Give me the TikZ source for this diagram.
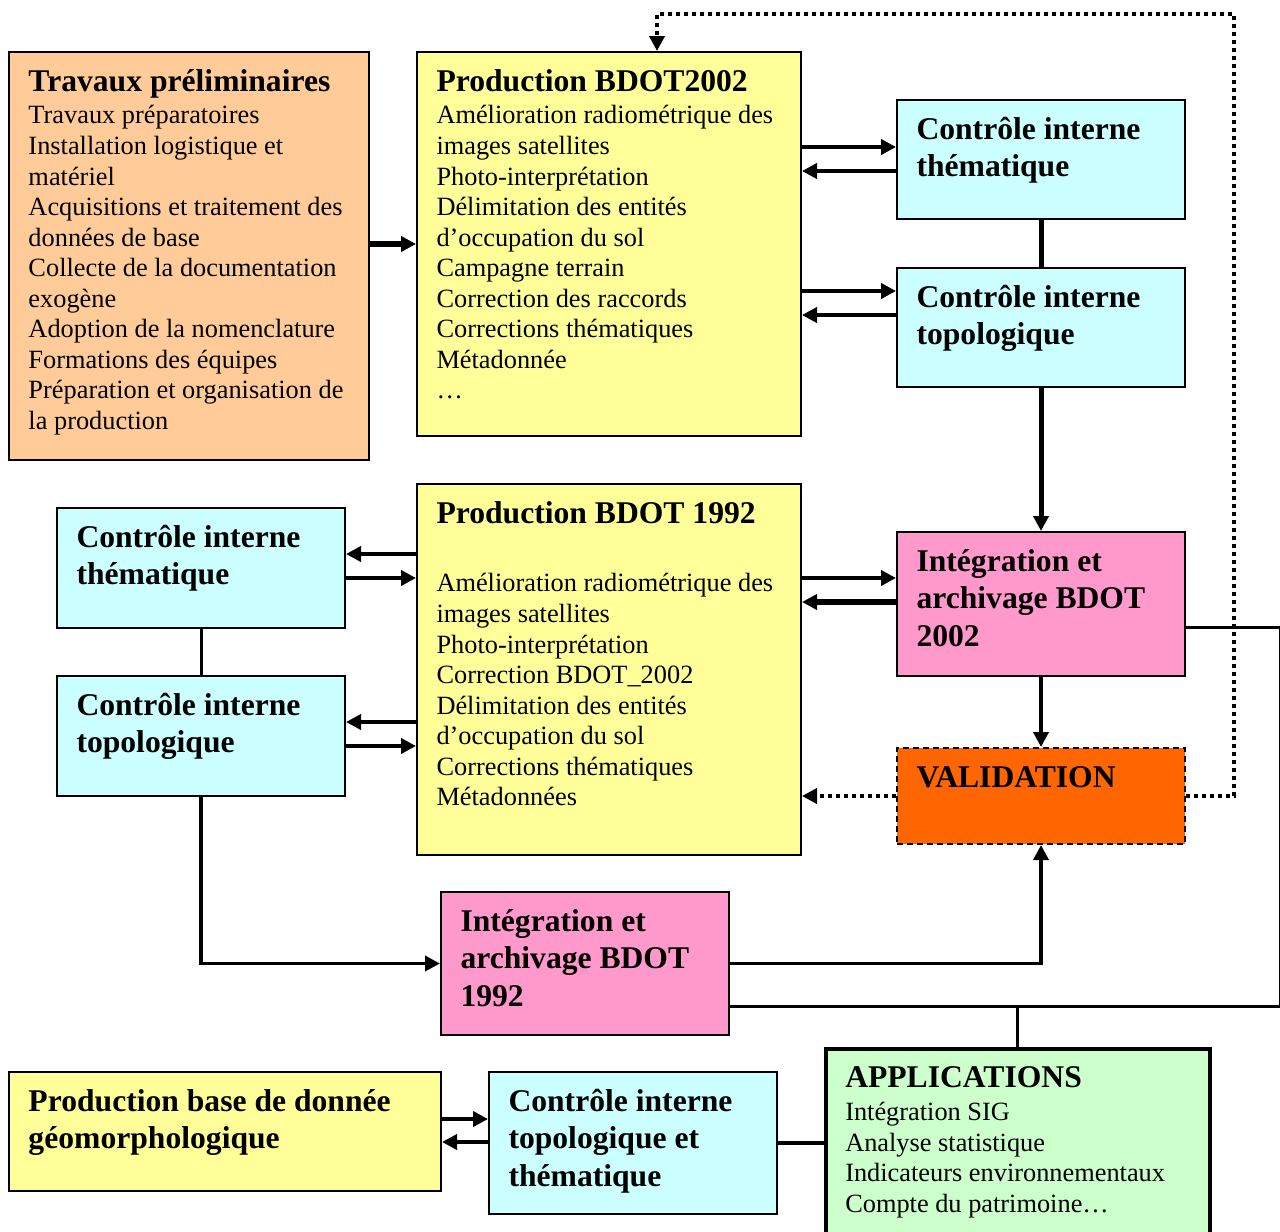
\documentclass[tikz,border=0pt]{standalone}
\usepackage{fontspec}
\setmainfont{Liberation Serif}
\usetikzlibrary{arrows.meta, positioning, calc}

\definecolor{peach}{HTML}{FFCC99}
\definecolor{paleyellow}{HTML}{FFFF99}
\definecolor{palecyan}{HTML}{CCFFFF}
\definecolor{pink}{HTML}{FF99CC}
\definecolor{deeporange}{HTML}{FF6600}
\definecolor{palegreen}{HTML}{CCFFCC}

% one pixel of the layout
\newlength{\px}
\setlength{\px}{0.02cm}

% box contents: width, height, text (top aligned)
\newcommand{\boxtext}[3]{%
  \begin{minipage}[t][#2\px][t]{#1\px}\raggedright\leftskip=19.5\px
  \rule{0pt}{39\px}#3\end{minipage}}
\newcommand{\ttl}[1]{{\fontsize{18}{21.6}\selectfont\bfseries #1\par}}
\newcommand{\txt}[1]{{\fontsize{15}{17.4}\selectfont\vspace{1.3pt}#1\par}}

\tikzset{
  box/.style={draw, line width=0.04cm, inner sep=0pt, anchor=north west},
  arr/.style={-{Triangle[length=0.3cm,width=0.3cm]}, line width=0.08cm},
  link/.style={line width=0.06cm},
  dotarr/.style={-{Triangle[length=0.3cm,width=0.3cm]}, line width=0.08cm,
    dash pattern=on 0.08cm off 0.08cm},
}

\begin{document}
\begin{tikzpicture}[x=0.02cm, y=-0.02cm]
\useasboundingbox (0,0) rectangle (1280,1231);

% top row
\node[box, fill=peach] (trav) at (8,51) {\boxtext{360}{408}{\ttl{Travaux préliminaires}\txt{Travaux préparatoires\\
  Installation logistique et\\ matériel\\ Acquisitions et traitement des\\ données de base\\
  Collecte de la documentation\\ exogène\\ Adoption de la nomenclature\\ Formations des équipes\\
  Préparation et organisation de\\ la production}}};

\node[box, fill=paleyellow] (prod02) at (416,51) {\boxtext{384}{384}{\ttl{Production BDOT2002}\txt{Amélioration radiométrique des\\
  images satellites\\ Photo-interprétation\\ Délimitation des entités\\ d’occupation du sol\\
  Campagne terrain\\ Correction des raccords\\ Corrections thématiques\\ Métadonnée\\ …}}};

\node[box, fill=palecyan] (cith) at (896,99) {\boxtext{288}{119}{\ttl{Contrôle interne\\ thématique}}};
\node[box, fill=palecyan] (citop) at (896,267) {\boxtext{288}{119}{\ttl{Contrôle interne\\ topologique}}};

% middle row
\node[box, fill=paleyellow] (prod92) at (416,483) {\boxtext{384}{371}{\ttl{Production BDOT 1992}\vspace{36\px}\txt{Amélioration radiométrique des\\
  images satellites\\ Photo-interprétation\\ Correction BDOT\_2002\\ Délimitation des entités\\
  d’occupation du sol\\ Corrections thématiques\\ Métadonnées}}};

\node[box, fill=palecyan] (cithL) at (56,507) {\boxtext{288}{120}{\ttl{Contrôle interne\\ thématique}}};
\node[box, fill=palecyan] (citopL) at (56,675) {\boxtext{288}{120}{\ttl{Contrôle interne\\ topologique}}};

\node[box, fill=pink] (int02) at (896,531) {\boxtext{288}{144}{\ttl{Intégration et\\ archivage BDOT\\ 2002}}};
\node[box, fill=deeporange, dashed, dash pattern=on 0.12cm off 0.08cm] (valid) at (896,747) {\boxtext{288}{96}{\ttl{VALIDATION}}};

\node[box, fill=pink] (int92) at (440,891) {\boxtext{288}{143}{\ttl{Intégration et\\ archivage BDOT\\ 1992}}};

% bottom row
\node[box, fill=paleyellow] (geo) at (8,1071) {\boxtext{432}{119}{\ttl{Production base de donnée\\ géomorphologique}}};
\node[box, fill=palecyan] (ci3) at (488,1071) {\boxtext{288}{142}{\ttl{Contrôle interne\\ topologique et\\ thématique}}};
\node[box, fill=palegreen, line width=0.07cm] (apps) at (824,1047) {\boxtext{384}{200}{\ttl{APPLICATIONS}\txt{Intégration SIG\\
  Analyse statistique\\ Indicateurs environnementaux\\ Compte du patrimoine…}}};

% connectors, top part
\draw[arr, line width=0.12cm] (trav.east |- prod02.west) -- (prod02.west);

\coordinate (t1) at ([yshift=-48\px]cith.north west);
\coordinate (t2) at ([yshift=-72\px]cith.north west);
\coordinate (t3) at ([yshift=-24\px]citop.north west);
\coordinate (t4) at ([yshift=-48\px]citop.north west);
\draw[arr] (prod02.east |- t1) -- (t1);
\draw[arr] (t2) -- (prod02.east |- t2);
\draw[arr] (prod02.east |- t3) -- (t3);
\draw[arr] (t4) -- (prod02.east |- t4);

\draw[line width=0.1cm] (cith.south) -- (citop.south |- citop.north);
\draw[arr, line width=0.1cm] (citop.south) -- (int02.north);

% connectors, middle part
\coordinate (m1) at ([yshift=-47\px]int02.north west);
\coordinate (m2) at ([yshift=-71\px]int02.north west);
\draw[arr] (prod92.east |- m1) -- (m1);
\draw[arr, line width=0.11cm] (m2) -- (prod92.east |- m2);
\draw[arr, line width=0.09cm] (int02.south) -- (valid.north);

\coordinate (l1) at ([yshift=-47\px]cithL.north east);
\coordinate (l2) at ([yshift=-71\px]cithL.north east);
\coordinate (l3) at ([yshift=-47\px]citopL.north east);
\coordinate (l4) at ([yshift=-71\px]citopL.north east);
\draw[arr] (prod92.west |- l1) -- (l1);
\draw[arr] (l2) -- (prod92.west |- l2);
\draw[arr] (prod92.west |- l3) -- (l3);
\draw[arr] (l4) -- (prod92.west |- l4);
\draw[link] (cithL.south) -- (citopL.north);

% validation feedback (dotted)
\draw[dotarr] (valid.west) -- (valid.west -| prod92.east);
\coordinate (fb) at ([xshift=48\px, yshift=37\px]prod02.north);
\draw[dotarr] (valid.east) -- ++(48,0) |- (fb) -- (fb |- prod02.north);

% integration links
\draw[arr, line width=0.07cm] (citopL.south) |- (int92.west);
\draw[arr, line width=0.07cm] (int92.east) -| (valid.south);

\coordinate (r1) at ([yshift=-96\px]int02.north east);
\coordinate (r2) at ([yshift=-115\px]int92.north east);
\draw[link] (r1) -- ++(94,0) |- (r2);
\draw[link] (apps.north) -- (apps.north |- r2);

% bottom links
\coordinate (b1) at ([yshift=-48\px]ci3.north west);
\coordinate (b2) at ([yshift=-71\px]ci3.north west);
\draw[arr] (geo.east |- b1) -- (b1);
\draw[arr] (b2) -- (geo.east |- b2);
\draw[link, line width=0.08cm] (ci3.east) -- (ci3.east -| apps.west);

\end{tikzpicture}
\end{document}
